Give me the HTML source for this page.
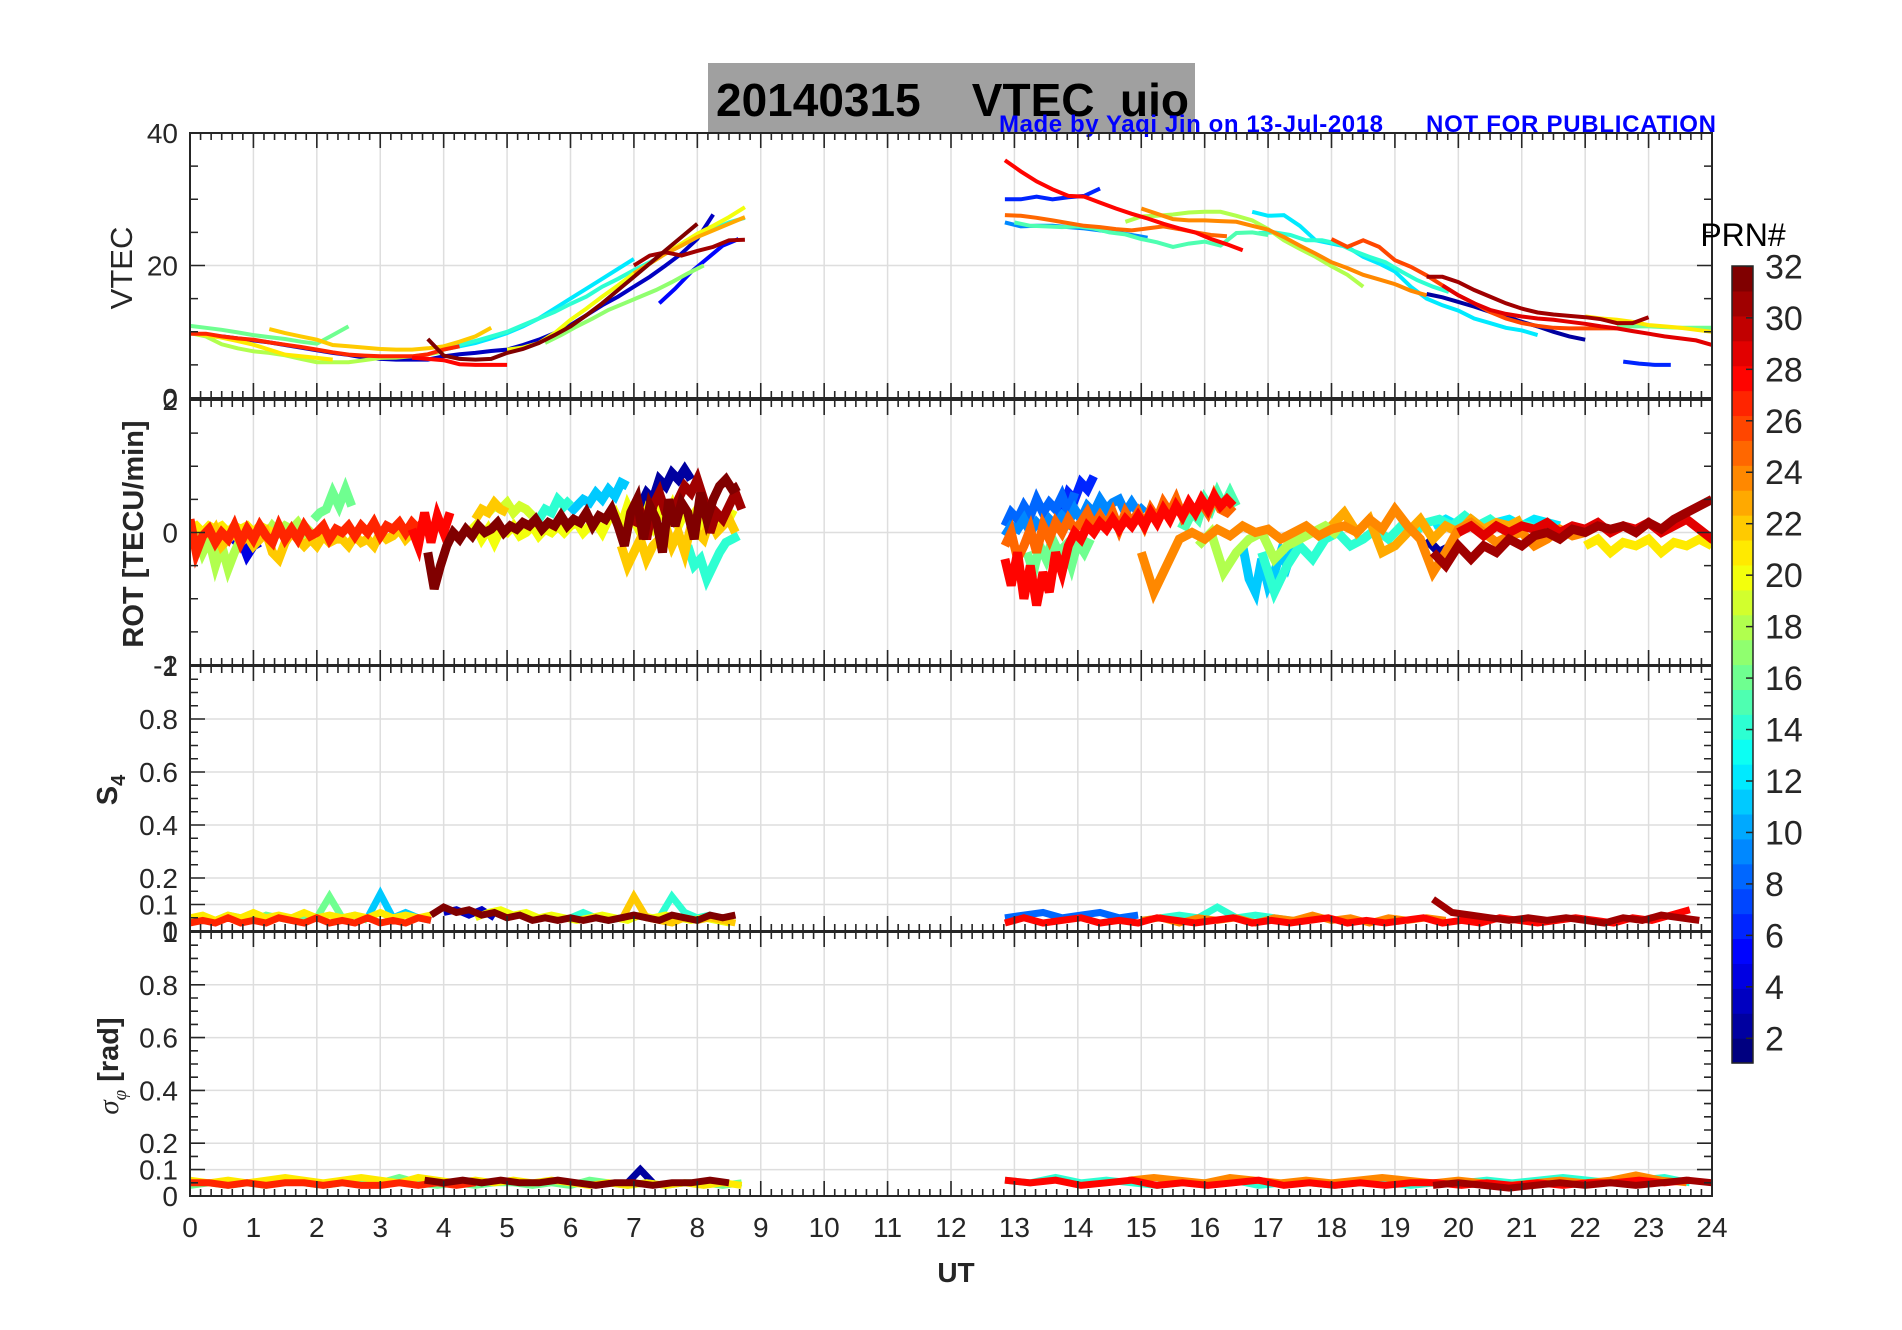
<!DOCTYPE html>
<html><head><meta charset="utf-8"><title>20140315 VTEC uio</title>
<style>
html,body{margin:0;padding:0;background:#fff;}
svg{display:block;font-family:"Liberation Sans",sans-serif;}
</style></head>
<body>
<svg id="fig" width="1902" height="1330" viewBox="0 0 1902 1330" xmlns="http://www.w3.org/2000/svg">
<rect x="0" y="0" width="1902" height="1330" fill="#fff"/>
<rect x="708" y="63" width="487" height="70" fill="#a0a0a0"/>
<text x="716" y="116" font-size="46" font-weight="bold" fill="#000" xml:space="preserve">20140315    VTEC  uio</text>
<text x="999" y="132" font-size="24" font-weight="bold" fill="#0000ff" textLength="384">Made by Yaqi Jin on 13-Jul-2018</text>
<text x="1426" y="132" font-size="24" font-weight="bold" fill="#0000ff" textLength="290">NOT FOR PUBLICATION</text>
<g id="grids"></g>
<g id="series"></g>
<g id="axes"></g>
<g id="cbar"></g>
<text transform="translate(132,268) rotate(-90)" text-anchor="middle" font-size="31" fill="#262626">VTEC</text>
<text transform="translate(143,534) rotate(-90)" text-anchor="middle" font-size="29" font-weight="bold" fill="#262626">ROT [TECU/min]</text>
<text transform="translate(117,790) rotate(-90)" text-anchor="middle" font-size="29" font-weight="bold" fill="#262626">S<tspan font-size="20" dy="8">4</tspan></text>
<text transform="translate(118,1066) rotate(-90)" text-anchor="middle" font-size="29" fill="#262626"><tspan font-style="italic" font-family="Liberation Serif, serif">σ</tspan><tspan font-style="italic" font-size="19" dy="8" font-family="Liberation Serif, serif">φ</tspan><tspan dy="-8" font-weight="bold"> [rad]</tspan></text>
<text x="956" y="1282" text-anchor="middle" font-size="28" font-weight="bold" fill="#262626">UT</text>
<text x="1743" y="246" text-anchor="middle" font-size="32" fill="#000">PRN#</text>
</svg>
<script>
// ---------------- data ----------------
const xTickLabels = [0,1,2,3,4,5,6,7,8,9,10,11,12,13,14,15,16,17,18,19,20,21,22,23,24];
const cbarTickLabels = [2,4,6,8,10,12,14,16,18,20,22,24,26,28,30,32];
const vtecTickLabels = [0,20,40];
const rotTickLabels = [-2,0,2];
const s4TickLabels = [0,0.1,0.2,0.4,0.6,0.8,1];
const sigTickLabels = [0,0.1,0.2,0.4,0.6,0.8,1];

const vtecPrn = [16,27,28,18,21,22,3,32,31,12,14,20,23,17,5, 28,6,25,24,26,18,15,9,12,14,2,31,29,21,16,6];
const vtecStart = [0,0,3.5,0,0,1.25,0.5,3.75,7.0,4.0,4.0,5.0,7.0,5.6,7.4, 12.85,12.85,12.85,15.0,18.0,14.75,13.0,12.85,16.75,16.85,19.5,19.5,19.75,22.0,22.5,22.6];
const vtecValues = [
 [10.9,10.6,10.3,9.9,9.5,9.2,8.9,8.5,8.2,9.5,10.8],
 [9.7,9.7,9.3,9.0,8.8,8.4,8.05,7.7,7.3,6.9,6.55,6.4,6.3,6.3,6.3,6.6,7.3,7.8],
 [6.1,5.9,5.7,5.1,5.0,5.0,5.0],
 [9.8,9.3,8.1,7.5,7.05,6.8,6.45,5.9,5.4,5.4,5.4,5.7,6.05,6.1,6.3,6.6,7.0],
 [9.8,9.5,9.1,8.6,8.05,7.3,6.55,6.3,6.05,5.8],
 [10.4,9.8,9.3,8.8,8.0,7.8,7.6,7.4,7.3,7.3,7.5,7.8,8.5,9.3,10.6],
 [9.3,9.0,8.7,8.4,8.0,7.6,7.2,6.8,6.5,6.1,5.9,5.8,5.8,5.8,6.3,6.6,6.8,7.1,7.3,8.0,8.8,9.8,11.0,12.5,14.0,15.3,16.8,18.3,20.0,21.8,24.0,27.7],
 [8.9,6.4,5.9,5.8,5.9,6.8,7.4,8.3,9.5,10.8,12.5,14.3,16.3,18.3,20.3,22.3,24.3,26.3],
 [20.0,21.5,22.0,21.5,22.2,22.8,23.8,23.9],
 [7.3,7.8,8.3,9.0,9.8,10.8,12.0,13.5,15.0,16.5,18.0,19.5,21.0],
 [7.6,8.0,8.6,9.3,10.0,11.0,12.0,13.0,14.2,15.3,16.8,18.0,19.3,20.5,21.8,23.0,24.3,25.5,26.5,27.2],
 [7.3,7.6,8.3,9.8,11.8,13.5,15.3,17.0,18.8,20.3,21.8,23.3,24.8,26.0,27.3,28.8],
 [18.8,20.3,21.8,23.0,24.3,25.3,26.3,27.3],
 [8.3,9.5,10.8,12.0,13.3,14.3,15.3,16.3,17.5,18.8,20.0],
 [14.3,16.5,19.0,21.0,23.0,24.0],
 [35.9,34.2,32.7,31.5,30.5,30.4,29.5,28.6,27.8,27.1,26.3,25.6,25.0,24.0,23.2,22.3],
 [30.0,30.0,30.4,30.0,30.3,30.5,31.6],
 [27.6,27.5,27.2,26.8,26.4,26.0,25.8,25.5,25.3,25.6,25.9,25.5,25.0,24.6,24.4],
 [28.6,27.8,27.0,26.8,26.8,26.7,26.6,26.0,25.4,24.3,23.0,21.8,20.5,19.6,18.6,17.9,17.2,16.2,15.5],
 [24.0,22.8,23.8,22.8,20.8,19.8,18.5,17.0,15.5,14.3,13.0,12.0,11.3,10.9,10.6,10.5,10.5,10.5,10.5],
 [26.6,27.4,27.5,27.7,28.0,28.1,28.1,27.5,26.8,25.5,23.8,22.5,21.3,19.9,18.6,16.8],
 [26.5,26.0,25.9,25.8,25.9,25.6,25.0,24.7,24.0,23.5,22.8,23.3,23.6,23.0,24.9,25.0,24.6],
 [26.5,25.9,26.0,26.0,25.8,25.6,25.3,25.0,24.6,24.2],
 [28.1,27.5,27.6,26.0,23.8,23.3,22.8,21.3,20.3,19.1,16.8,15.0,14.0,13.2,12.0,11.3,10.6,10.2,9.5],
 [24.9,25.0,24.6,23.8,23.8,23.3,22.2,21.3,20.5,19.1,17.8,16.8,16.0],
 [15.7,15.2,14.5,13.8,13.0,12.3,11.5,10.8,10.0,9.3,8.8],
 [18.3,18.3,17.5,16.3,15.3,14.3,13.5,12.9,12.6,12.4,12.2,11.9,11.3,11.3,12.2],
 [17.0,15.5,14.3,13.3,12.7,12.3,12.0,11.8,11.5,11.2,10.8,10.5,10.1,9.7,9.3,9.0,8.7,8.0],
 [12.3,12.0,11.8,11.5,11.0,10.8,10.6,10.3,10.0],
 [10.8,10.8,10.8,10.7,10.6,10.6,10.6],
 [5.5,5.2,5.0,5.0]
];
const vtecStep = 0.25;

const rotPrn = [27,22,18,21,16,4,28,32,20,19,22,22,14,14,11,2,31, 8,6,9,28,25,16,15,24,18,11,14,12,23,31,29,21,2];
const rotStart = [0,0.3,0.1,0,1.95,0.7,3.5,3.75,4.4,4.7,4.5,6.8,5.5,7.85,6.0,7.0,7.0, 12.85,13.75,12.85,12.85,12.85,13.2,15.6,15.0,15.9,16.6,16.9,19.6,18.0,19.6,20.0,22.0,19.5];
const rotStep = [0.1,0.1,0.1,0.1,0.1,0.1,0.1,0.1,0.1,0.1,0.1,0.1,0.1,0.1,0.1,0.1,0.1, 0.1,0.1,0.1,0.1,0.1,0.1,0.1,0.2,0.2,0.1,0.2,0.2,0.2,0.2,0.2,0.2,0.2];
const rotValues = [
 [0.2,-0.3,-0.05,0.05,-0.15,0.0,-0.1,0.1,-0.15,0.05,-0.1,0.1,-0.05,-0.15,0.1,-0.1,0.05,-0.1,0.1,-0.05,0.0,0.1,-0.1,0.05,0.0,0.1,-0.05,0.1,0.0,0.15,-0.05,0.1,0.05,0.15,0.0,0.15,0.05,0.2],
 [-0.1,0.05,-0.2,-0.1,0.0,-0.15,-0.05,-0.2,-0.1,0.0,-0.3,-0.4,-0.15,0.0,-0.1,-0.2,-0.1,-0.2,-0.05,-0.15,-0.1,-0.1,-0.2,-0.05,-0.15,-0.1,-0.2,0.0,-0.1,-0.05,0.05,-0.1,0.0,0.05,-0.05],
 [0.0,-0.3,-0.1,-0.5,-0.2,-0.55,-0.3,-0.1,0.0,-0.1,0.05,-0.05,0.1,0.0,0.1,0.05,0.15,0.0,0.1],
 [0.05,0.1,0.0,0.1,0.05,0.1,0.0,0.1,0.05,0.1,0.0,0.1,0.05,0.0],
 [0.2,0.3,0.35,0.6,0.4,0.65,0.4],
 [-0.2,-0.1,-0.35,-0.2,-0.15],
 [0.05,-0.2,0.3,-0.15,0.25,0.0,0.3],
 [-0.3,-0.85,-0.5,-0.2,0.0,-0.1,0.05,-0.05,0.1,0.0,0.05,0.15,0.0,0.1,0.05,0.15,0.1,0.2,0.05,0.15,0.1,0.25,0.1,0.2,0.15,0.3,0.1,0.25,0.2,0.35,0.1,-0.2,0.3,0.5,-0.1,0.4,0.2,-0.3,0.5,0.1,0.45,0.3,-0.1,0.6,0.2,0.5,0.7,0.8,0.65,0.7],
 [0.0,0.1,-0.1,0.05,-0.15,0.05,0.0,0.1,-0.05,0.0,0.1,-0.05,0.05,0.0,0.1,0.0,0.1,0.15,0.0,0.1,0.15,0.0,0.2,0.3,0.1,0.4,0.2,0.0,0.3,0.1,0.35,0.2,0.4,0.1,0.3,0.2,0.35,0.05,0.2,0.1,0.2,0.3,0.25],
 [0.3,0.4,0.35,0.45,0.3,0.4,0.35,0.25],
 [0.2,0.35,0.3,0.45,0.35,0.3],
 [-0.2,-0.5,-0.3,-0.1,-0.4,-0.2,-0.1,0.1,-0.2,0.0,-0.3,0.1,0.0,-0.1,0.2,0.0,0.1,0.2,0.0],
 [0.2,0.35,0.3,0.5,0.4,0.5],
 [-0.2,-0.5,-0.4,-0.7,-0.5,-0.3,-0.15,-0.1,-0.05],
 [0.3,0.4,0.5,0.45,0.6,0.5,0.65,0.55,0.75,0.7],
 [0.2,0.4,0.6,0.5,0.8,0.7,0.9,0.8,0.95,0.8],
 [0.1,0.3,-0.1,0.4,0.6,0.3,0.2,0.5,0.7,0.6,0.8,0.5,0.0,0.3,0.2,0.4,0.6,0.35],
 [0.1,0.3,0.2,0.4,0.25,0.5,0.3,0.45,0.35,0.55,0.3,0.6],
 [0.3,0.6,0.5,0.75,0.65,0.85],
 [-0.05,0.1,0.05,0.2,0.0,0.15,0.05,0.2,0.1,0.25,0.15,0.35,0.2,0.4,0.3,0.5,0.35,0.45,0.5,0.3,0.45,0.3,0.4],
 [-0.4,-0.8,-0.3,-1.0,-0.5,-1.1,-0.6,-0.9,-0.3,-0.6,-0.2,0.0,-0.1,0.1,0.0,0.15,0.05,0.2,0.05,0.2,0.1,0.25,0.1,0.3,0.15,0.35,0.2,0.4,0.25,0.45,0.3,0.5,0.35,0.55,0.4,0.5,0.4],
 [-0.2,0.0,-0.4,-0.2,0.05,-0.3,0.1,-0.1,0.15,0.0,0.2,0.05,0.15,0.3,0.1,0.25,0.1,0.3,0.05,0.3,0.15,0.3,0.1,0.35,0.2,0.45,0.3,0.5,0.25,0.4,0.3,0.45,0.3,0.55,0.35,0.3,0.4],
 [-0.3,-0.6,-0.2,-0.4,-0.1,-0.3,-0.2,-0.5,-0.15,-0.3,-0.1],
 [0.15,0.1,0.3,0.2,0.5,0.35,0.6,0.4,0.6,0.4],
 [-0.3,-0.9,-0.5,-0.1,0.0,-0.1,0.05,-0.05,0.1,0.0,0.05,-0.1,0.0,0.1,-0.05,0.05,0.1,0.0,0.2,0.05,0.35,0.1,-0.1,-0.6,-0.3,0.05,0.15,0.0,-0.15,-0.05,0.0,-0.2,-0.1,0.05,-0.05,0.0],
 [-0.2,0.0,-0.6,-0.3,-0.1,0.0,-0.4,-0.2,-0.1,0.0,0.1,-0.05],
 [-0.2,-0.7,-0.9,-0.4,-0.8,-0.6,-0.3,-0.5,-0.2],
 [-0.3,-0.9,-0.5,-0.2,-0.4,-0.1,0.0,-0.2,-0.1,0.05,-0.1,0.1,0.0,0.15,0.2,0.1,0.25,0.1,0.2,0.05,0.15,0.1,0.0],
 [0.1,0.2,0.1,0.2,0.05,0.15,0.2,0.1,0.2,0.15,0.1],
 [0.1,0.3,0.0,0.2,-0.3,-0.2,0.0,0.2,-0.1,0.1,0.0,0.2,0.05,0.15,0.1,0.2],
 [-0.3,-0.5,-0.2,-0.4,-0.2,-0.3,-0.1,-0.2,-0.05,0.0,-0.1,0.05,0.0,0.1,0.05,0.1,0.0,0.15,0.05,0.2,0.3,0.4,0.5],
 [0.0,0.1,-0.05,0.1,0.0,0.1,0.05,0.15,0.0,0.1,0.05,0.15,0.0,0.1,0.05,0.15,0.0,0.1,0.2,0.05,-0.1,-0.2],
 [-0.2,-0.1,-0.3,-0.15,-0.2,-0.1,-0.3,-0.15,-0.2,-0.1,-0.2],
 [-0.1,-0.3,-0.2]
];

const s4Prn = [27,21,16,11,32,3,20,22,14, 28,24,8,14,31];
const s4Start = [0,0,0,2.8,3.8,4.0,4.5,6.8,6.0, 12.85,15.0,12.85,15.0,19.6];
const s4Step = [0.2,0.2,0.2,0.2,0.2,0.2,0.2,0.2,0.2, 0.3,0.3,0.3,0.3,0.3];
const s4Values = [
 [0.03,0.04,0.03,0.05,0.03,0.04,0.03,0.05,0.04,0.03,0.05,0.03,0.04,0.03,0.05,0.03,0.04,0.03,0.05,0.04],
 [0.05,0.06,0.04,0.06,0.05,0.07,0.05,0.06,0.05,0.07,0.05,0.06,0.05,0.06,0.05,0.07,0.05,0.06,0.05,0.06],
 [0.04,0.05,0.04,0.06,0.05,0.04,0.06,0.05,0.04,0.05,0.05,0.13,0.05,0.06,0.04],
 [0.05,0.14,0.05,0.07,0.05,0.04],
 [0.06,0.09,0.07,0.08,0.06,0.07,0.05,0.06,0.04,0.05,0.04,0.05,0.04,0.05,0.04,0.05,0.06,0.05,0.04,0.06,0.05,0.04,0.06,0.05,0.06],
 [0.07,0.08,0.06,0.08,0.05],
 [0.05,0.07,0.08,0.06,0.07,0.05,0.06,0.05,0.04,0.05,0.06,0.05,0.04,0.06,0.05,0.06,0.05,0.04,0.05,0.04,0.03],
 [0.04,0.13,0.05,0.04,0.03,0.05,0.04,0.05,0.04,0.03],
 [0.05,0.07,0.05,0.04,0.05,0.06,0.05,0.05,0.13,0.07,0.05,0.06,0.04],
 [0.03,0.05,0.03,0.04,0.05,0.03,0.04,0.03,0.05,0.04,0.03,0.04,0.05,0.03,0.04,0.03,0.04,0.05,0.03,0.04,0.03,0.04,0.05,0.03,0.04,0.03,0.05,0.04,0.03,0.04,0.05,0.04,0.03,0.05,0.04,0.06,0.08],
 [0.04,0.05,0.03,0.05,0.04,0.05,0.03,0.05,0.04,0.06,0.04,0.05,0.03,0.05,0.04,0.05,0.04],
 [0.05,0.06,0.07,0.05,0.06,0.07,0.05,0.06],
 [0.04,0.05,0.06,0.05,0.09,0.05,0.06,0.05,0.04,0.05],
 [0.12,0.07,0.06,0.05,0.04,0.05,0.04,0.05,0.04,0.03,0.05,0.04,0.06,0.05,0.04]
];

const sigPrn = [21,16,27,32,2, 14,24,28,31];
const sigStart = [0,0,0,3.7,6.9, 12.85,14.8,12.85,19.6];
const sigStep = [0.3,0.3,0.3,0.3,0.2, 0.4,0.4,0.4,0.4];
const sigValues = [
 [0.06,0.05,0.06,0.05,0.06,0.07,0.06,0.05,0.06,0.07,0.06,0.05,0.07,0.06,0.05,0.06,0.05,0.06,0.05,0.06,0.05,0.04,0.05,0.04,0.05,0.04,0.05,0.04,0.05,0.04],
 [0.04,0.05,0.04,0.05,0.04,0.06,0.05,0.04,0.05,0.06,0.05,0.07,0.05,0.04,0.05,0.04,0.05,0.05,0.04,0.05,0.04,0.06,0.05,0.04,0.05,0.04,0.05,0.05,0.04,0.05],
 [0.05,0.05,0.04,0.05,0.04,0.05,0.05,0.04,0.05,0.04,0.04,0.05,0.04,0.05,0.04,0.05],
 [0.06,0.05,0.06,0.05,0.06,0.05,0.05,0.06,0.05,0.04,0.05,0.05,0.04,0.05,0.05,0.06,0.05],
 [0.05,0.1,0.05],
 [0.06,0.05,0.07,0.05,0.06,0.05,0.04,0.05,0.05,0.06,0.04,0.05,0.05,0.04,0.05,0.05,0.04,0.05,0.05,0.06,0.05,0.06,0.07,0.06,0.05,0.06,0.07,0.05],
 [0.06,0.07,0.06,0.05,0.07,0.06,0.05,0.06,0.05,0.06,0.07,0.06,0.05,0.06,0.05,0.04,0.05,0.06,0.05,0.06,0.08,0.06,0.05],
 [0.06,0.05,0.06,0.04,0.05,0.06,0.04,0.05,0.04,0.05,0.06,0.04,0.05,0.04,0.05,0.04,0.05,0.05,0.04,0.05,0.04,0.05,0.04,0.05,0.05,0.06,0.05,0.06],
 [0.04,0.05,0.04,0.03,0.04,0.05,0.04,0.05,0.04,0.05,0.06,0.05]
];

// ---------------- layout ----------------
const NS = 'http://www.w3.org/2000/svg';
const X0 = 190, X1 = 1712;
const xs = h => X0 + (h / 24) * (X1 - X0);
const panels = [
  {key:'vtec', top:133, h:265, min:0, max:40, majors:vtecTickLabels, minor:5},
  {key:'rot', top:400, h:265, min:-2, max:2, majors:rotTickLabels, minor:0.5},
  {key:'s4', top:666, h:265, min:0, max:1, majors:s4TickLabels, minor:0.05},
  {key:'sigma', top:932, h:264, min:0, max:1, majors:sigTickLabels, minor:0.05}
];
function ys(p, v){ return p.top + p.h - (v - p.min) / (p.max - p.min) * p.h; }
function jet(prn){
  const t = (prn - 1) / 31;
  const c = x => Math.round(255 * Math.max(0, Math.min(1, 1.5 - Math.abs(4 * t - x))));
  return 'rgb(' + c(3) + ',' + c(2) + ',' + c(1) + ')';
}
function mk(tag, attrs, parent){
  const e = document.createElementNS(NS, tag);
  for (const k in attrs) e.setAttribute(k, attrs[k]);
  parent.appendChild(e);
  return e;
}
const svg = document.getElementById('fig');
const gGrid = document.getElementById('grids');
const gSer = document.getElementById('series');
const gAx = document.getElementById('axes');
const gCb = document.getElementById('cbar');
const defs = mk('defs', {}, svg);

panels.forEach(p => {
  const cp = mk('clipPath', {id:'clip-' + p.key}, defs);
  mk('rect', {x:X0, y:p.top, width:X1 - X0, height:p.h}, cp);
  xTickLabels.forEach(h => {
    const l = mk('line', {x1:xs(h), x2:xs(h), y1:p.top, y2:p.top + p.h, stroke:'#dedede', 'stroke-width':1.5}, gGrid);
    
    
  });
  p.majors.forEach(v => {
    const l = mk('line', {x1:X0, x2:X1, y1:ys(p, v), y2:ys(p, v), stroke:'#dedede', 'stroke-width':1.5}, gGrid);
    
    
  });
  const box = mk('rect', {x:X0, y:p.top, width:X1 - X0, height:p.h, fill:'none', stroke:'#262626', 'stroke-width':2}, gAx);
  
  
  let d = '';
  for (let i = 0; i <= 144; i++) {
    const x = xs(i / 6);
    const len = (i % 6 === 0) ? 15 : 7;
    d += 'M' + x + ' ' + (p.top + p.h) + 'v' + (-len) + 'M' + x + ' ' + p.top + 'v' + len;
  }
  const n = Math.round((p.max - p.min) / p.minor);
  for (let i = 0; i <= n; i++) {
    const v = p.min + i * p.minor;
    const isMaj = p.majors.some(m => Math.abs(m - v) < 1e-6);
    const len = isMaj ? 15 : 8;
    const y = ys(p, v);
    d += 'M' + X0 + ' ' + y + 'h' + len + 'M' + X1 + ' ' + y + 'h' + (-len);
  }
  const tk = mk('path', {d:d, stroke:'#262626', 'stroke-width':1.6, fill:'none'}, gAx);
  
  
  p.majors.forEach(v => {
    const t = mk('text', {x:178, y:ys(p, v) + 10, 'text-anchor':'end', 'font-size':28, fill:'#262626'}, gAx);
    t.textContent = String(v);
    
    
  });
});
xTickLabels.forEach(h => {
  const t = mk('text', {x:xs(h), y:1237, 'text-anchor':'middle', 'font-size':28, fill:'#262626'}, gAx);
  t.textContent = String(h);
  
  
});

function drawTracks(panel, prns, starts, steps, values, width, label){
  const order = prns.map((p, i) => i).sort((a, b) => prns[a] - prns[b]);
  const g = mk('g', {'clip-path':'url(#clip-' + panel.key + ')'}, gSer);
  
  
  order.forEach(i => {
    const st = Array.isArray(steps) ? steps[i] : steps;
    const pts = values[i].map((v, k) => xs(starts[i] + k * st).toFixed(1) + ',' + ys(panel, v).toFixed(1));
    const pl = mk('polyline', {points:pts.join(' '), fill:'none', stroke:jet(prns[i]), 'stroke-width':width, 'stroke-linejoin':'miter', 'stroke-linecap':'butt'}, g);
    
    
  });
}
drawTracks(panels[0], vtecPrn, vtecStart, vtecStep, vtecValues, 4, 'vtec');
drawTracks(panels[1], rotPrn, rotStart, rotStep, rotValues, 9, 'rot');
drawTracks(panels[2], s4Prn, s4Start, s4Step, s4Values, 7, 's4');
drawTracks(panels[3], sigPrn, sigStart, sigStep, sigValues, 7, 'sigma');

const CB = {x:1732, w:21, top:266, bottom:1063};
const cbY = v => 1038.3 - (v - 2) * 25.73;
for (let i = 0; i < 32; i++) {
  const h = (CB.bottom - CB.top) / 32;
  const r = mk('rect', {x:CB.x, y:CB.bottom - (i + 1) * h, width:CB.w, height:h + 0.6, fill:jet(i + 1)}, gCb);
  
  
}
const cbBox = mk('rect', {x:CB.x, y:CB.top, width:CB.w, height:CB.bottom - CB.top, fill:'none', stroke:'#262626', 'stroke-width':1.5}, gCb);


cbarTickLabels.forEach(v => {
  const l = mk('line', {x1:CB.x + CB.w - 7, x2:CB.x + CB.w, y1:cbY(v), y2:cbY(v), stroke:'#262626', 'stroke-width':1.5}, gCb);
  
  
  const t = mk('text', {x:1765, y:cbY(v) + 12, 'font-size':34, fill:'#262626'}, gCb);
  t.textContent = String(v);
  
  
});
</script>
</body></html>
